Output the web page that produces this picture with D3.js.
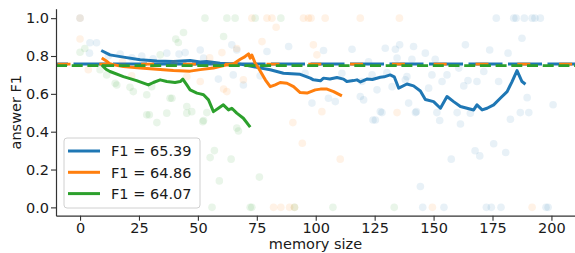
<!DOCTYPE html>
<html>
<head>
<meta charset="utf-8">
<script src="https://cdn.jsdelivr.net/npm/d3@7"></script>
<style>
  body { margin: 0; background: #fff; }
  text { font-family: "DejaVu Sans", sans-serif; }
</style>
</head>
<body>
<div id="chart"></div>
<script>
// series names + colours
const seriesNames = ["F1 = 65.39", "F1 = 64.86", "F1 = 64.07"];
const seriesColors = ["#1f77b4", "#ff7f0e", "#2ca02c"];
const xTicks = [0, 25, 50, 75, 100, 125, 150, 175, 200];
const yTicks = [0, 0.2, 0.4, 0.6, 0.8, 1.0];

// reference (dashed) level per series
const refLevels = [0.758, 0.757, 0.749];

// running-average lines [memory size, F1]
const blueLine = [[9,0.829],[12.7,0.806],[18.4,0.794],[25.5,0.78],[32.6,0.773],[39.6,0.771],[46.7,0.776],[51,0.768],[53.8,0.771],[59.4,0.762],[68,0.757],[75,0.74],[80.7,0.727],[86.3,0.709],[93.4,0.703],[97.7,0.683],[99,0.674],[102,0.669],[103.3,0.683],[106,0.678],[109,0.686],[111.8,0.678],[113.2,0.665],[116,0.670],[117.5,0.674],[119,0.663],[121.7,0.678],[124,0.676],[127.4,0.688],[129,0.69],[131.6,0.700],[133.3,0.69],[135.2,0.630],[138.7,0.652],[141.5,0.642],[144.4,0.615],[146.5,0.570],[150,0.559],[152.9,0.524],[155.7,0.586],[158.5,0.559],[161.4,0.533],[164.2,0.524],[167,0.515],[168.4,0.542],[170.6,0.515],[172.7,0.524],[175.5,0.542],[178.3,0.577],[181.2,0.612],[183.3,0.665],[185.4,0.723],[187.5,0.665],[189,0.651]];
const orangeLine = [[9.2,0.79],[11,0.775],[12.7,0.758],[18.4,0.744],[25.5,0.736],[32.6,0.730],[39.6,0.723],[46.7,0.720],[51,0.728],[56.6,0.736],[62.3,0.753],[65,0.758],[68,0.783],[70,0.797],[71.5,0.811],[72.2,0.789],[72.9,0.805],[74.3,0.762],[75.7,0.736],[78.6,0.674],[80.7,0.638],[82.8,0.647],[84.9,0.660],[87.8,0.656],[90.6,0.638],[93.4,0.607],[96.3,0.604],[99.8,0.621],[102,0.625],[104.8,0.625],[107.6,0.612],[111.1,0.589]];
const greenLine = [[9.2,0.753],[11,0.73],[12.7,0.718],[18.4,0.691],[24,0.670],[29,0.647],[31.1,0.66],[34,0.674],[36.8,0.665],[40.3,0.66],[42.5,0.665],[43.6,0.678],[45.3,0.647],[46.7,0.621],[49.6,0.604],[51,0.6],[52.4,0.595],[54.5,0.568],[56.6,0.506],[58.7,0.524],[60.8,0.542],[63,0.515],[64.4,0.524],[66.5,0.498],[69.3,0.471],[72.2,0.424]];

// per-sample scores [memory size, F1]
const blueDots = [[0,1],[176.6,1],[184,1],[185,1],[188.5,1],[191.8,1],[193,1],[195.3,1],
  [145.4,0],[154.4,0],[172.4,0],[174.5,0],[178.6,0],[197.7,0],[198.6,0],
  [4.2,0.87],[7,0.87],[4,0.815],[12,0.80],[17,0.81],[22,0.79],[26.2,0.80],[31,0.785],[36.8,0.815],[42,0.81],[44.6,0.818],[51,0.832],
  [52.4,0.789],[64.4,0.859],[66.5,0.832],[79.3,0.824],[88.5,0.85],[103.3,0.829],[115.4,0.836],[129.5,0.841],[133.8,0.836],[135.6,0.859],
  [141.5,0.85],[146.5,0.815],[163.5,0.859],[173.8,0.832],[181.6,0.815],[187.5,0.894],[134.5,0.789],[140.8,0.783],[150.7,0.783],
  [122.4,0.77],[160.7,0.736],[171.3,0.718],[130.2,0.712],[138,0.674],[149.3,0.70],[153.6,0.665],[155.7,0.70],[164.6,0.67],[168.4,0.665],
  [177.6,0.665],[162.8,0.642],[147.9,0.63],[139.4,0.551],[151.4,0.501],[142.3,0.501],[160,0.501],[165.6,0.498],[186.8,0.501],
  [190.4,0.501],[189.7,0.58],[200.7,0.542],[128.1,0.501],[152.6,0.459],[161.4,0.441],[182.6,0.466],[144.4,0.11],[157.5,0.255],
  [167.6,0.299],[169.6,0.272],[175.5,0.336],[180.6,0.29],[58.7,0.678],[69.3,0.647],[65,0.70],[76.4,0.695],[95.5,0.709],[98.4,0.551],
  [105.4,0.577],[108.3,0.559],[118.9,0.586],[120.3,0.568],[125.3,0.462],[127.4,0.506],[111.1,0.709],[123.9,0.70],[138.7,0.691],
  [119.6,0.665],[126,0.621],[132.4,0.638],[124.3,0.462],[142.7,0.506]];
const orangeDots = [[0,1],[0,0.89],[3.5,0.727],[72.9,1],[79.3,1],[81.4,1],[94.8,1],[96.9,1],[98,1],[104,1],[118.9,1],[135.5,1],
  [83.2,0.952],[77.2,0.876],[99,0.859],[100.5,0.806],[60.2,0.818],[66.5,0.84],[60.9,0.625],[62.3,0.612],[69.3,0.674],[90.3,0.448],
  [102.6,0.506],[134.5,0.501],[94.3,0.339],[110.4,0.255],[82.1,0],[85.2,0],[88.9,0],[91,0],[149.5,0],[191.8,0],
  [51,0.665],[45.3,0.691],[21.9,0.695],[18,0.77],[30,0.75],[40,0.76],[55,0.79],[57,0.75]];
const greenDots = [[0,0.82],[2,0.84],[8.5,0.727],[11.3,0.70],[15.6,0.647],[21.2,0.635],[22.6,0.612],[28.3,0.489],[32.6,0.448],
  [36.8,0.498],[39,0.577],[43.9,0.924],[40.6,0.89],[45.3,0.498],[53,1],[62.3,1],[65.8,1],[74.3,1],[85.2,1],[60.9,0.903],
  [47.4,0.506],[52.4,0.459],[66.5,0.419],[52.1,0.453],[67.2,0.404],[57,0.3],[55.2,0.263],[64.1,0.255],[59.1,0.14],[76.1,0.16],
  [56,0],[72.2,0],[72.9,0],[91,0],[107.3,0],[133.3,0],[14.9,0.656],[28.3,0.595],[38.2,0.577],[29.4,0.489],[45.3,0.533],
  [34,0.806],[41.7,0.871],[30.4,0.638],[53.8,0.501]];

const lines = [blueLine, orangeLine, greenLine];
const dots = [blueDots, orangeDots, greenDots];

// dimensions
const W = 575, H = 253;
const margin = { top: 8.7, right: 0, bottom: 37.3, left: 56 },
    width = W - margin.left - margin.right,
    height = H - margin.top - margin.bottom;

const svg = d3.select("#chart")
    .append("svg")
    .attr("width", W)
    .attr("height", H)
    .style("background", "#fff");

const g = svg.append("g")
    .attr("transform", `translate(${margin.left}, ${margin.top})`);

const x = d3.scaleLinear().domain([-10.2, 210]).range([0, width]);
const y = d3.scaleLinear().domain([-0.044, 1.05]).range([height, 0]);

const line = d3.line().x(d => x(d[0])).y(d => y(d[1]));

// dash settings for the three level lines
const dashStyles = [
    { arr: "34,5.5", off: 22 },
    { arr: "13,28.8", off: 40.3 },
    { arr: "11,4.7", off: 0 }
];

seriesNames.forEach((name, i) => {
    // scatter
    g.append("g").selectAll("circle")
        .data(dots[i])
        .join("circle")
        .attr("cx", d => x(d[0]))
        .attr("cy", d => y(d[1]))
        .attr("r", 3.8)
        .attr("fill", seriesColors[i])
        .attr("opacity", 0.1);

    // running line
    g.append("path")
        .datum(lines[i])
        .attr("d", line)
        .attr("fill", "none")
        .attr("stroke", seriesColors[i])
        .attr("stroke-width", 3)
        .attr("stroke-linejoin", "round");

    // level line
    g.append("line")
        .attr("x1", 0)
        .attr("x2", width)
        .attr("y1", y(refLevels[i]))
        .attr("y2", y(refLevels[i]))
        .attr("stroke", seriesColors[i])
        .attr("stroke-width", 2.9)
        .attr("stroke-dasharray", dashStyles[i].arr)
        .attr("stroke-dashoffset", dashStyles[i].off);
});

// axes
const xAxis = g.append("g")
    .attr("transform", `translate(0, ${height})`)
    .call(d3.axisBottom(x).tickValues(xTicks).tickSize(5).tickPadding(2.5).tickSizeOuter(0));
const yAxis = g.append("g")
    .call(d3.axisLeft(y).tickValues(yTicks).tickFormat(d3.format(".1f")).tickSize(5).tickPadding(2).tickSizeOuter(0));

[xAxis, yAxis].forEach(ax => {
    ax.selectAll("text")
        .style("font-size", "14.5px")
        .style("font-family", "DejaVu Sans")
        .attr("fill", "#1a1a1a");
    ax.selectAll("line").attr("stroke", "#333").attr("stroke-width", 1.1);
    ax.select(".domain").attr("stroke", "#333").attr("stroke-width", 1.2);
});

// axis titles
svg.append("text")
    .attr("x", margin.left + (W - margin.left) / 2)
    .attr("y", 249)
    .attr("text-anchor", "middle")
    .style("font-size", "14.5px")
    .attr("fill", "#1a1a1a")
    .text("memory size");

svg.append("text")
    .attr("transform", `translate(21, ${margin.top + height / 2}) rotate(-90)`)
    .attr("text-anchor", "middle")
    .style("font-size", "14.5px")
    .attr("fill", "#1a1a1a")
    .text("answer F1");

// legend
const legend = svg.append("g").attr("transform", "translate(64, 138)");
legend.append("rect")
    .attr("width", 136)
    .attr("height", 70)
    .attr("rx", 3)
    .attr("fill", "#fff")
    .attr("fill-opacity", 0.85)
    .attr("stroke", "#d0d0d0")
    .attr("stroke-width", 1);

seriesNames.forEach((name, i) => {
    const row = legend.append("g").attr("transform", `translate(0, ${13 + i * 21.3})`);
    row.append("line")
        .attr("x1", 4).attr("x2", 36)
        .attr("stroke", seriesColors[i])
        .attr("stroke-width", 3);
    row.append("text")
        .attr("x", 47)
        .attr("dy", "0.36em")
        .style("font-size", "14.5px")
        .attr("fill", "#1a1a1a")
        .text(name);
});
</script>
</body>
</html>
